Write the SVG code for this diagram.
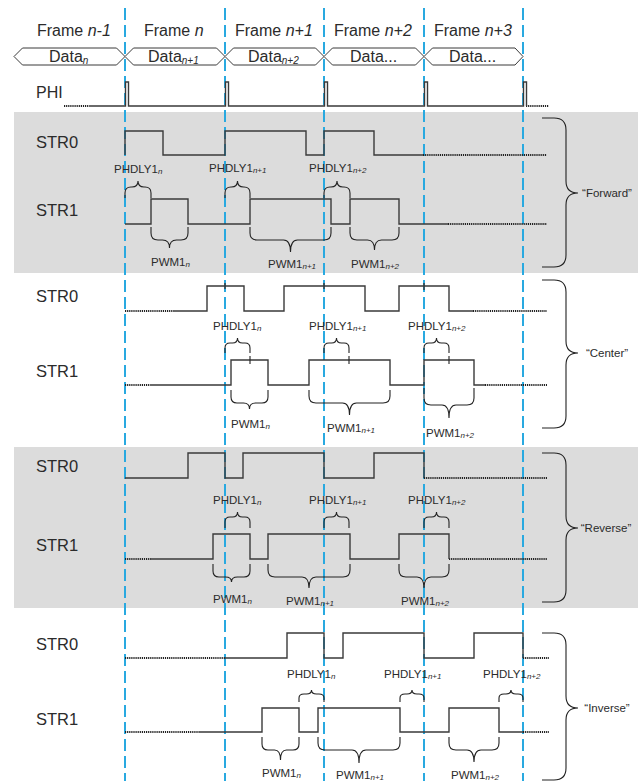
<svg xmlns="http://www.w3.org/2000/svg" width="638" height="781" viewBox="0 0 638 781">
<style>
text{font-family:"Liberation Sans",Arial,sans-serif;fill:#2b2b2b}
.fr{font-size:16px}
.lb{font-size:16.5px}
.sm{font-size:11.5px}
.it{font-style:italic}
.s1{font-size:10px;font-style:italic}
.s2{font-size:8px;font-style:italic}
.wave{fill:none;stroke:#3a3a3a;stroke-width:1.4}
.dot{fill:none;stroke:#222;stroke-width:2;stroke-dasharray:1.2,0.9}
.br{fill:none;stroke:#222;stroke-width:1.1}
.hex{fill:#fff;stroke:#3a3a3a;stroke-width:1}
.bl{stroke:#29a9e0;stroke-width:2;stroke-dasharray:12,5}
.band{fill:#dcdcdc}
</style>
<rect width="638" height="781" fill="#fff"/>
<g id="bands">
<rect class="band" x="14" y="112" width="624" height="161"/>
<rect class="band" x="14" y="447" width="624" height="161"/>
</g>
<g id="connectors">
<line class="bl" x1="125" y1="8" x2="125" y2="781"/>
<line class="bl" x1="225" y1="8" x2="225" y2="781"/>
<line class="bl" x1="324" y1="8" x2="324" y2="781"/>
<line class="bl" x1="424" y1="8" x2="424" y2="781"/>
<line class="bl" x1="523" y1="8" x2="523" y2="781"/>
</g>
<g id="header">
<text class="fr" x="37" y="36">Frame <tspan class="it">n-1</tspan></text>
<text class="fr" x="144" y="36">Frame <tspan class="it">n</tspan></text>
<text class="fr" x="235" y="36">Frame <tspan class="it">n+1</tspan></text>
<text class="fr" x="334" y="36">Frame <tspan class="it">n+2</tspan></text>
<text class="fr" x="434" y="36">Frame <tspan class="it">n+3</tspan></text>
</g>
<g id="data">
<polygon class="hex" points="14,56.5 22.5,48 116.5,48 125,56.5 116.5,65 22.5,65"/>
<polygon class="hex" points="125,56.5 133.5,48 216.5,48 225,56.5 216.5,65 133.5,65"/>
<polygon class="hex" points="225,56.5 233.5,48 315.5,48 324,56.5 315.5,65 233.5,65"/>
<polygon class="hex" points="324,56.5 332.5,48 415.5,48 424,56.5 415.5,65 332.5,65"/>
<polygon class="hex" points="424,56.5 432.5,48 515,48 523,56.5 515,65 432.5,65"/>
<text class="fr" x="49" y="62">Data<tspan class="s1" dy="2">n</tspan></text>
<text class="fr" x="148" y="62">Data<tspan class="s1" dy="2">n+1</tspan></text>
<text class="fr" x="248" y="62">Data<tspan class="s1" dy="2">n+2</tspan></text>
<text class="fr" x="350" y="62">Data...</text>
<text class="fr" x="449" y="62">Data...</text>
</g>
<g id="phi">
<text class="fr" x="36" y="98">PHI</text>
<path class="dot" d="M64,106 H89 M526,106 H549"/>
<path class="wave" d="M89,106 H125.5 V82 H128.5 V106 H225.5 V82 H228.5 V106 H324.5 V82 H327.5 V106 H424.5 V82 H427.5 V106 H523.5 V82 H526.5 V106"/>
</g>
<g id="forward">
<text class="lb" x="36" y="148">STR0</text>
<text class="lb" x="36" y="216">STR1</text>
<path class="wave" d="M125,155 V131 H163 V155 H225 V131 H306 V155 H324 V131 H374 V155 H423"/>
<path class="dot" d="M423,155 H547"/>
<path class="wave" d="M125,224 H151 V199 H188 V224 H250 V199 H331 V224 H350 V199 H399 V224 H448"/>
<path class="dot" d="M448,224 H547"/>
<path class="br" d="M125,198 V193 Q125,187 131,187 H132 Q138,187 138,181 Q138,187 144,187 H145 Q151,187 151,193 V198"/>
<path class="br" d="M225,198 V193 Q225,187 231,187 H231.5 Q237.5,187 237.5,181 Q237.5,187 243.5,187 H244 Q250,187 250,193 V198"/>
<path class="br" d="M324,198 V193 Q324,187 330,187 H331 Q337,187 337,181 Q337,187 343,187 H344 Q350,187 350,193 V198"/>
<path class="br" d="M151,227 V233 Q151,240 158,240 H162.5 Q169.5,240 169.5,248 Q169.5,240 176.5,240 H181 Q188,240 188,233 V227"/>
<path class="br" d="M250,227 V233 Q250,240 257,240 H283.5 Q290.5,240 290.5,252 Q290.5,240 297.5,240 H324 Q331,240 331,233 V227"/>
<path class="br" d="M350,227 V233 Q350,240 357,240 H367.5 Q374.5,240 374.5,250 Q374.5,240 381.5,240 H392 Q399,240 399,233 V227"/>
<text class="sm" x="114" y="173">PHDLY1<tspan class="s2" dy="1">n</tspan></text>
<text class="sm" x="209" y="172">PHDLY1<tspan class="s2" dy="1">n+1</tspan></text>
<text class="sm" x="309" y="172">PHDLY1<tspan class="s2" dy="1">n+2</tspan></text>
<text class="sm" x="151" y="266">PWM1<tspan class="s2" dy="1">n</tspan></text>
<text class="sm" x="268" y="268">PWM1<tspan class="s2" dy="1">n+1</tspan></text>
<text class="sm" x="351" y="268">PWM1<tspan class="s2" dy="1">n+2</tspan></text>
<path class="br" d="M542,118 H554 Q566,118 566,130 V181 Q566,193 578,193 Q566,193 566,205 V255 Q566,267 554,267 H542"/>
<text class="sm" x="607" y="197" text-anchor="middle">“Forward”</text>
</g>
<g id="center">
<text class="lb" x="36" y="302">STR0</text>
<text class="lb" x="36" y="377">STR1</text>
<path class="dot" d="M125,311 H174 M473,311 H547"/>
<path class="wave" d="M174,311 H207 V286 H244 V311 H284 V286 H365 V311 H399 V286 H449 V311 H473"/>
<path class="dot" d="M125,385 H150 M485,385 H547"/>
<path class="wave" d="M150,385 H231 V360 H268 V385 H309 V360 H390 V385 H424 V360 H474 V385 H485"/>
<path class="wave" d="M225,283 V289 M324,283 V289 M424,283 V290"/>
<path class="br" d="M225,353 V348 Q225,343 230,343 H232.5 Q237.5,343 237.5,338 Q237.5,343 242.5,343 H245 Q250,343 250,348 V353 M250,356 V364"/>
<path class="br" d="M324,353 V348 Q324,343 329,343 H331.5 Q336.5,343 336.5,338 Q336.5,343 341.5,343 H344 Q349,343 349,348 V353 M349,356 V364"/>
<path class="br" d="M424,353 V348 Q424,343 429,343 H431.5 Q436.5,343 436.5,338 Q436.5,343 441.5,343 H444 Q449,343 449,348 V353 M449,356 V364"/>
<path class="br" d="M231,390 V397 Q231,403 237,403 H243.5 Q249.5,403 249.5,409 Q249.5,403 255.5,403 H262 Q268,403 268,397 V390"/>
<path class="br" d="M309,390 V396 Q309,403 316,403 H342.5 Q349.5,403 349.5,415 Q349.5,403 356.5,403 H383 Q390,403 390,396 V390"/>
<path class="br" d="M424,388 V398 Q424,405 431,405 H442 Q449,405 449,418 Q449,405 456,405 H467 Q474,405 474,398 V388"/>
<text class="sm" x="213" y="330">PHDLY1<tspan class="s2" dy="1">n</tspan></text>
<text class="sm" x="309" y="330">PHDLY1<tspan class="s2" dy="1">n+1</tspan></text>
<text class="sm" x="408" y="330">PHDLY1<tspan class="s2" dy="1">n+2</tspan></text>
<text class="sm" x="231" y="428">PWM1<tspan class="s2" dy="1">n</tspan></text>
<text class="sm" x="327" y="432">PWM1<tspan class="s2" dy="1">n+1</tspan></text>
<text class="sm" x="426" y="437">PWM1<tspan class="s2" dy="1">n+2</tspan></text>
<path class="br" d="M542,280 H554 Q566,280 566,292 V341 Q566,353 578,353 Q566,353 566,365 V416 Q566,428 554,428 H542"/>
<text class="sm" x="607" y="357" text-anchor="middle">“Center”</text>
</g>
<g id="reverse">
<text class="lb" x="36" y="472">STR0</text>
<text class="lb" x="36" y="551">STR1</text>
<path class="wave" d="M125,478 H188 V453 H225 V478 H243 V453 H324 V478 H374 V453 H424 V478"/>
<path class="dot" d="M424,478 H547"/>
<path class="dot" d="M125,559 H151 M449,559 H547"/>
<path class="wave" d="M151,559 H213 V534 H250 V559 H268 V534 H350 V559 H399 V534 H449 V559"/>
<path class="br" d="M225,528 V522 Q225,517 230,517 H232.5 Q237.5,517 237.5,512 Q237.5,517 242.5,517 H245 Q250,517 250,522 V528"/>
<path class="br" d="M324,528 V522 Q324,517 329,517 H331.5 Q336.5,517 336.5,512 Q336.5,517 341.5,517 H344 Q349,517 349,522 V528"/>
<path class="br" d="M424,528 V522 Q424,517 429,517 H431.5 Q436.5,517 436.5,512 Q436.5,517 441.5,517 H444 Q449,517 449,522 V528"/>
<path class="br" d="M213,564 V571 Q213,577 219,577 H225.5 Q231.5,577 231.5,582 Q231.5,577 237.5,577 H244 Q250,577 250,571 V564"/>
<path class="br" d="M268,564 V570 Q268,577 275,577 H302 Q309,577 309,588 Q309,577 316,577 H343 Q350,577 350,570 V564"/>
<path class="br" d="M399,564 V570 Q399,577 406,577 H417 Q424,577 424,588 Q424,577 431,577 H442 Q449,577 449,570 V564"/>
<text class="sm" x="213" y="504">PHDLY1<tspan class="s2" dy="1">n</tspan></text>
<text class="sm" x="309" y="504">PHDLY1<tspan class="s2" dy="1">n+1</tspan></text>
<text class="sm" x="408" y="504">PHDLY1<tspan class="s2" dy="1">n+2</tspan></text>
<text class="sm" x="213" y="603">PWM1<tspan class="s2" dy="1">n</tspan></text>
<text class="sm" x="286" y="605">PWM1<tspan class="s2" dy="1">n+1</tspan></text>
<text class="sm" x="401" y="605">PWM1<tspan class="s2" dy="1">n+2</tspan></text>
<path class="br" d="M542,453 H554 Q566,453 566,465 V516 Q566,528 578,528 Q566,528 566,540 V590 Q566,602 554,602 H542"/>
<text class="sm" x="606" y="532" text-anchor="middle">“Reverse”</text>
</g>
<g id="inverse">
<text class="lb" x="36" y="650">STR0</text>
<text class="lb" x="36" y="725">STR1</text>
<path class="dot" d="M125,658 H225 M523,658 H549"/>
<path class="wave" d="M225,658 H287 V633 H324 V658 H343 V633 H424 V658 H474 V633 H523 V658"/>
<path class="dot" d="M125,732 H200 M523,732 H549"/>
<path class="wave" d="M200,732 H262 V708 H299 V732 H318 V708 H400 V732 H449 V708 H499 V732 H523"/>
<path class="br" d="M299,702 V698 Q299,694 304,694 H306.5 Q311.5,694 311.5,690 Q311.5,694 316.5,694 H319 Q324,694 324,698 V702"/>
<path class="br" d="M400,702 V698 Q400,694 405,694 H407 Q412,694 412,690 Q412,694 417,694 H419 Q424,694 424,698 V702"/>
<path class="br" d="M499,702 V698 Q499,694 504,694 H506 Q511,694 511,690 Q511,694 516,694 H518 Q523,694 523,698 V702"/>
<path class="br" d="M262,737 V744 Q262,750 268,750 H274.5 Q280.5,750 280.5,760 Q280.5,750 286.5,750 H293 Q299,750 299,744 V737"/>
<path class="br" d="M318,737 V743 Q318,750 325,750 H352 Q359,750 359,763 Q359,750 366,750 H393 Q400,750 400,743 V737"/>
<path class="br" d="M449,737 V743 Q449,750 456,750 H467 Q474,750 474,762 Q474,750 481,750 H492 Q499,750 499,743 V737"/>
<text class="sm" x="287" y="678">PHDLY1<tspan class="s2" dy="1">n</tspan></text>
<text class="sm" x="384" y="678">PHDLY1<tspan class="s2" dy="1">n+1</tspan></text>
<text class="sm" x="483" y="678">PHDLY1<tspan class="s2" dy="1">n+2</tspan></text>
<text class="sm" x="262" y="777">PWM1<tspan class="s2" dy="1">n</tspan></text>
<text class="sm" x="336" y="779">PWM1<tspan class="s2" dy="1">n+1</tspan></text>
<text class="sm" x="451" y="779">PWM1<tspan class="s2" dy="1">n+2</tspan></text>
<path class="br" d="M542,633 H554 Q566,633 566,645 V696 Q566,708 578,708 Q566,708 566,720 V768 Q566,780 554,780 H542"/>
<text class="sm" x="607" y="712" text-anchor="middle">“Inverse”</text>
</g>
</svg>
